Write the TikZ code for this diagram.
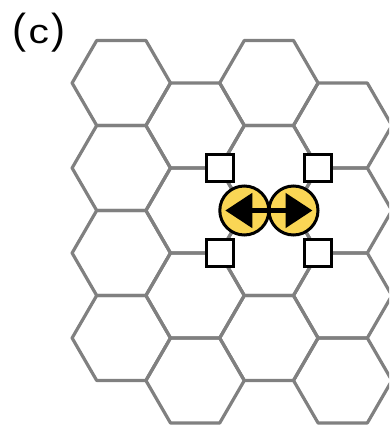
\documentclass[tikz,border=0pt]{standalone}
\usepackage{fontspec}
\setmainfont{Liberation Sans}
\usetikzlibrary{arrows.meta}
\definecolor{gridgray}{RGB}{128,128,128}
\definecolor{tokenyellow}{RGB}{250,214,85}
\tikzset{
  cell/.style={draw=gridgray, line width=3.2pt, line join=round},
  site/.style={draw=black, fill=white, line width=3pt, rectangle,
    minimum size=27pt, inner sep=0pt},
  token/.style={circle, draw=black, fill=tokenyellow, line width=3pt,
    minimum size=49pt, inner sep=0pt},
  hop/.style={line width=5pt,
    {Triangle[length=27pt,width=34pt]}-{Triangle[length=27pt,width=34pt]}},
}
\begin{document}
\begin{tikzpicture}[x=1pt, y=-1pt]
  \useasboundingbox (0,0) rectangle (389,427);
  \clip (0,0) rectangle (389,427);

  % flat-topped hexagonal lattice, 4 columns x 4 rows
  \foreach \c in {0,...,3} {
    \foreach \r in {0,...,3} {
      \pgfmathsetmacro\cx{121.3+73.8*\c}
      \pgfmathsetmacro\cy{83+42.5*mod(\c,2)+85*\r}
      \draw[cell] (\cx+49.2,\cy) -- (\cx+24.6,\cy+42.5) -- (\cx-24.6,\cy+42.5)
        -- (\cx-49.2,\cy) -- (\cx-24.6,\cy-42.5) -- (\cx+24.6,\cy-42.5) -- cycle;
    }
  }

  % empty target sites
  \node[site] (s1) at (219.7,168) {};
  \node[site] (s2) at (318.1,168) {};
  \node[site] (s3) at (219.7,253) {};
  \node[site] (s4) at (318.1,253) {};

  % occupied pair exchanging along the shared edge
  \node[token] (t1) at (244.3,210.5) {};
  \node[token] (t2) at (293.5,210.5) {};
  \draw[hop, shorten <=-19pt, shorten >=-19pt] (t1.center) -- (t2.center);

  % panel label
  \node[anchor=base west, inner sep=0pt] (lbl) at (12,43.5)
    {{\fontsize{42}{42}\selectfont(}\kern2.5pt{\fontsize{34}{34}\selectfont\scalebox{1.2}[1]{c}}\kern2.5pt{\fontsize{42}{42}\selectfont)}};
\end{tikzpicture}
\end{document}
